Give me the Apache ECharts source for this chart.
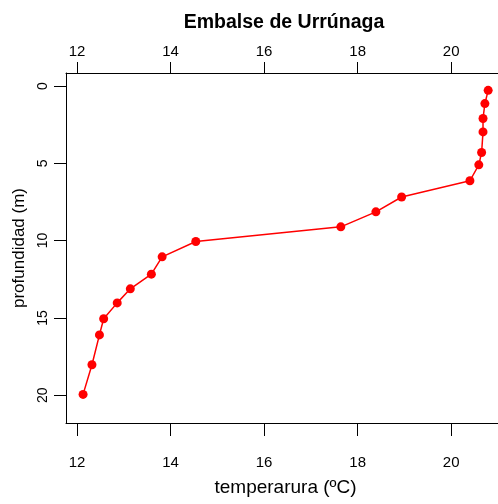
<!DOCTYPE html>
<html><head><meta charset="utf-8">
<script src="https://cdn.jsdelivr.net/npm/echarts@6/dist/echarts.min.js"></script>
<style>html,body{margin:0;padding:0;background:#fff}#c{width:498px;height:504px}</style>
</head><body><div id="c"></div>
<script>
const titleText = 'Embalse de Urrúnaga';
const xTitle = 'temperarura (ºC)';
const yTitle = 'profundidad (m)';
const temperature = [20.79, 20.72, 20.68, 20.68, 20.65, 20.59, 20.40, 18.94, 18.39, 17.64, 14.54, 13.82, 13.59, 13.14, 12.86, 12.57, 12.48, 12.32, 12.13];
const depth = [0.28, 1.14, 2.1, 2.97, 4.3, 5.1, 6.13, 7.18, 8.14, 9.11, 10.06, 11.05, 12.17, 13.12, 14.03, 15.06, 16.1, 18.03, 19.95];
const xTicks = [12, 14, 16, 18, 20];
const yTicks = [0, 5, 10, 15, 20];

const font = 'Liberation Sans, Arial, sans-serif';
const xMin = 11.765, xMax = 21.15;
const yMin = -0.84, yMax = 21.8;
const axisLine = {show: true, onZero: false, lineStyle: {color: '#000', width: 1}};
function xAxisCfg(pos, margin, len) {
  return {
    type: 'value', position: pos, min: xMin, max: xMax,
    axisLine: axisLine,
    axisTick: {show: true, customValues: xTicks, length: len, lineStyle: {color: '#000'}},
    axisLabel: {show: true, customValues: xTicks, margin: margin, color: '#000', fontSize: 15, fontFamily: font},
    splitLine: {show: false}
  };
}
const chart = echarts.init(document.getElementById('c'), null, {renderer: 'canvas'});
const bottomAxis = xAxisCfg('bottom', 32, 13);
bottomAxis.name = xTitle;
bottomAxis.nameLocation = 'middle';
bottomAxis.nameGap = 55;
bottomAxis.nameTextStyle = {color: '#000', fontSize: 19, fontFamily: font};
chart.setOption({
  animation: false,
  title: {text: titleText, left: 279, top: 8, textAlign: 'center',
    textStyle: {color: '#000', fontSize: 19.5, fontWeight: 'bold', fontFamily: font}},
  grid: {left: 66, top: 73, width: 439, height: 350, outerBoundsMode: 'none', containLabel: false},
  xAxis: [bottomAxis, xAxisCfg('top', 14, 11)],
  yAxis: {
    type: 'value', inverse: true, min: yMin, max: yMax,
    axisLine: axisLine,
    axisTick: {show: true, customValues: yTicks, length: 12, lineStyle: {color: '#000'}},
    axisLabel: {show: true, customValues: yTicks, rotate: 90, margin: 16, color: '#000', fontSize: 14, fontFamily: font},
    splitLine: {show: false},
    name: yTitle, nameLocation: 'middle', nameGap: 33,
    nameTextStyle: {color: '#000', fontSize: 17, fontFamily: font}
  },
  series: [{
    type: 'line', xAxisIndex: 0,
    data: temperature.map((t, i) => [t, depth[i]]),
    symbol: 'circle', symbolSize: 9,
    lineStyle: {color: '#ff0000', width: 1.5},
    itemStyle: {color: '#ff0000'}
  }]
});
</script></body></html>
